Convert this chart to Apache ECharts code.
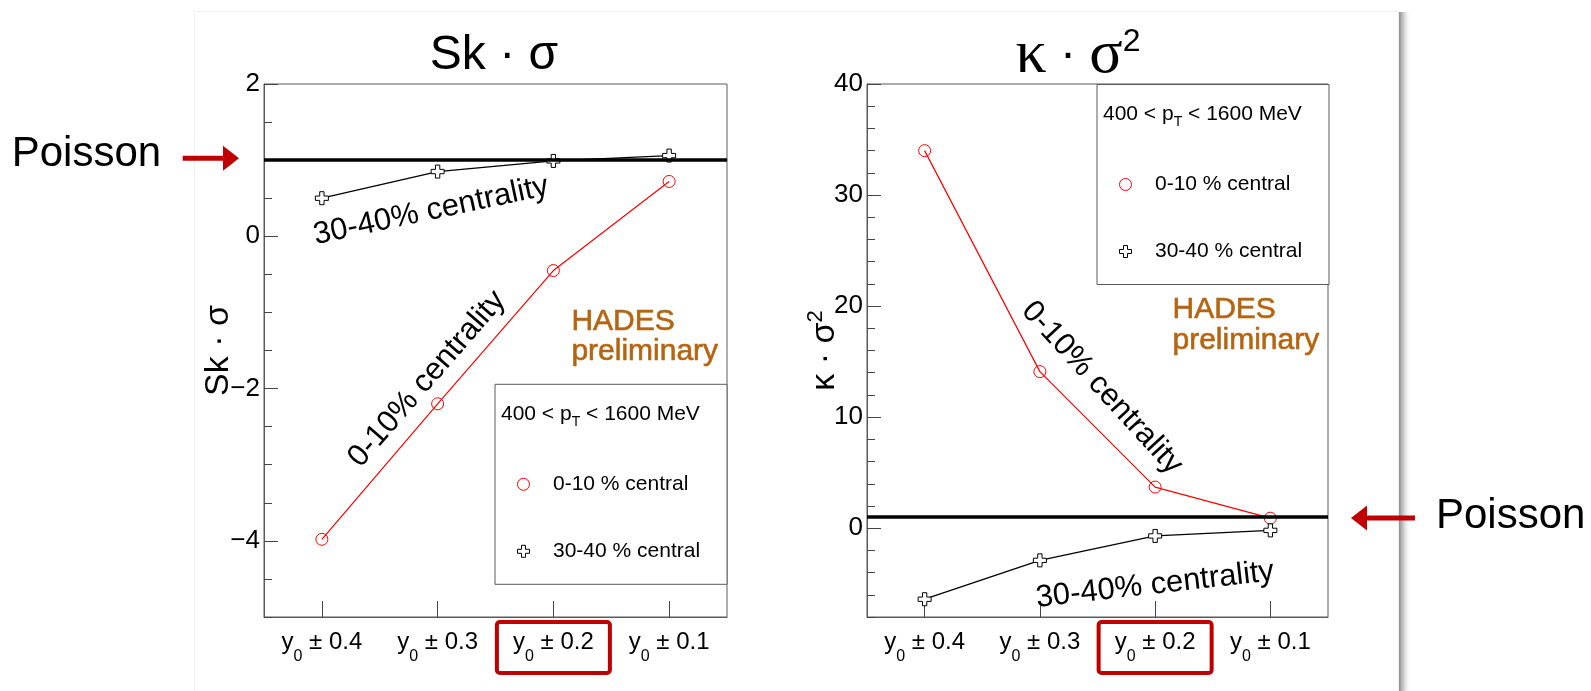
<!DOCTYPE html>
<html>
<head>
<meta charset="utf-8">
<script src="https://cdn.jsdelivr.net/npm/echarts@6/dist/echarts.min.js"></script>
<style>html,body{margin:0;padding:0;background:#fff;}#c{width:1591px;height:691px;}</style>
</head>
<body>
<div id="c"></div>
<script>
// ---------------- data ----------------
const categories = ['0.4', '0.3', '0.2', '0.1'];          // y0 ± ...
const seriesNames = ['0-10 % central', '30-40 % central'];
const skCentral = [-3.98, -2.2, -0.45, 0.72];
const skPeripheral = [0.50, 0.85, 0.99, 1.06];
const kurtCentral = [34.0, 14.1, 3.7, 0.9];
const kurtPeripheral = [-6.4, -2.9, -0.7, -0.2];
const poissonLevel = 1;
const skTickLabels = [-4, -2, 0, 2];
const kurtTickLabels = [0, 10, 20, 30, 40];
const highlightedCategory = 2;

// ---------------- style ----------------
const FONT = '"Liberation Sans", Arial, sans-serif';
const SERIF = '"Liberation Serif", "Times New Roman", serif';
const RED = '#ff0000';
const DARKRED = '#c00000';
const HADES = '#b5640f';
const FRAME = '#5a5a5a';
const CROSS = 'path://M4,0 L8,0 L8,4 L12,4 L12,8 L8,8 L8,12 L4,12 L4,8 L0,8 L0,4 L4,4 Z';

const panels = [
  { grid: { left: 264, top: 84, width: 463, height: 533 }, min: -5, max: 2, minor: 0.5, ticks: skTickLabels,
    central: skCentral, peripheral: skPeripheral, name: '{a|Sk · σ}', nameGap: 25 },
  { grid: { left: 867, top: 84, width: 461, height: 533 }, min: -8, max: 40, minor: 2, ticks: kurtTickLabels,
    central: kurtCentral, peripheral: kurtPeripheral, name: '{a|κ · σ}{p|2}', nameGap: 22 }
];

const xLabelRich = {
  y: { fontSize: 24, lineHeight: 46, fontFamily: FONT, color: '#000' },
  s: { fontSize: 16, lineHeight: 46, fontFamily: FONT, color: '#000', verticalAlign: 'bottom' },
  t: { fontSize: 24, lineHeight: 46, fontFamily: FONT, color: '#000' }
};

const grids = [], xAxes = [], yAxes = [], series = [];
panels.forEach((p, i) => {
  grids.push(Object.assign({ show: true, borderColor: FRAME, borderWidth: 1, backgroundColor: 'transparent' }, p.grid));
  xAxes.push({
    type: 'category', gridIndex: i, data: categories, boundaryGap: true,
    axisLine: { show: true, onZero: false, lineStyle: { color: FRAME, width: 1 } },
    axisTick: { show: true, inside: true, length: 16, alignWithLabel: true, lineStyle: { color: '#444' } },
    axisLabel: { margin: 2, interval: 0, formatter: v => '{y|y}{s|0}{t| \u00b1 ' + v + '}', rich: xLabelRich },
    splitLine: { show: false }
  });
  yAxes.push({
    type: 'value', gridIndex: i, min: p.min, max: p.max, position: 'left',
    axisLine: { show: true, onZero: false, lineStyle: { color: FRAME, width: 1 } },
    axisTick: { show: true, inside: true, length: 14, customValues: p.ticks, lineStyle: { color: '#444' } },
    axisLabel: { show: true, margin: 4, customValues: p.ticks, fontSize: 26, fontFamily: FONT, color: '#000',
      formatter: v => String(v).replace('-', '\u2212') },
    splitLine: { show: false },
    name: p.name, nameLocation: 'middle', nameGap: p.nameGap, nameMoveOverlap: false,
    nameTextStyle: { rich: {
      a: { fontSize: 34, fontFamily: FONT, color: '#000', lineHeight: 40 },
      p: { fontSize: 22, fontFamily: FONT, color: '#000', verticalAlign: 'top', lineHeight: 40 }
    } }
  });
  yAxes.push({
    type: 'value', gridIndex: i, min: p.min, max: p.max, interval: p.minor, position: 'left',
    axisLine: { show: false, onZero: false }, axisLabel: { show: false }, splitLine: { show: false },
    axisTick: { show: true, inside: true, length: 8, lineStyle: { color: '#444' } }
  });
  const toPts = arr => arr.map((v, k) => [k, v]);
  series.push({
    type: 'line', name: seriesNames[0], xAxisIndex: i, yAxisIndex: 2 * i, data: toPts(p.central),
    symbol: 'circle', symbolSize: 12, showSymbol: true,
    itemStyle: { color: 'rgba(0,0,0,0)', borderColor: RED, borderWidth: 1 },
    lineStyle: { color: RED, width: 1.2 }, z: 3, silent: true, animation: false
  });
  series.push({
    type: 'line', name: seriesNames[1], xAxisIndex: i, yAxisIndex: 2 * i, data: toPts(p.peripheral),
    symbol: CROSS, symbolSize: 13, showSymbol: true,
    itemStyle: { color: '#fff', borderColor: '#000', borderWidth: 1 },
    lineStyle: { color: '#000', width: 1.3 }, z: 4, silent: true, animation: false,
    markLine: { silent: true, symbol: ['none', 'none'], label: { show: false }, animation: false,
      lineStyle: { color: '#000', width: 3.5, type: 'solid' }, data: [{ yAxis: poissonLevel }] }
  });
});

function txt(x, y, text, size, opts) {
  return Object.assign({ type: 'text', x: x, y: y, z: 20,
    style: Object.assign({ text: text, fontSize: size, fontFamily: FONT, fill: '#000', align: 'center', verticalAlign: 'middle' }, (opts && opts.style) || {}) },
    opts && opts.rotation !== undefined ? { rotation: opts.rotation } : {});
}
const deg = d => d * Math.PI / 180;

function legendBox(x, y) {
  const w = 232, h = 200;
  return [
    { type: 'rect', z: 15, shape: { x: x, y: y, width: w, height: h }, style: { fill: '#fff', stroke: FRAME, lineWidth: 1 } },
    { type: 'text', z: 16, x: x + 6, y: y + 30, style: { text: '{a|400 < p}{s|T}{a| < 1600 MeV}', align: 'left', verticalAlign: 'middle',
      rich: { a: { fontSize: 21, fontFamily: FONT, fill: '#000', lineHeight: 30 }, s: { fontSize: 14, fontFamily: FONT, fill: '#000', verticalAlign: 'bottom', lineHeight: 30 } } } },
    { type: 'circle', z: 16, shape: { cx: x + 28.5, cy: y + 100, r: 6 }, style: { fill: 'none', stroke: RED, lineWidth: 1 } },
    { type: 'text', z: 16, x: x + 58, y: y + 100, style: { text: seriesNames[0], fontSize: 21, fontFamily: FONT, fill: '#000', align: 'left', verticalAlign: 'middle' } },
    { type: 'polygon', z: 16, x: x + 28.5, y: y + 167, shape: { points: [[-2,-6],[2,-6],[2,-2],[6,-2],[6,2],[2,2],[2,6],[-2,6],[-2,2],[-6,2],[-6,-2],[-2,-2]] }, style: { fill: '#fff', stroke: '#000', lineWidth: 1 } },
    { type: 'text', z: 16, x: x + 58, y: y + 167, style: { text: seriesNames[1], fontSize: 21, fontFamily: FONT, fill: '#000', align: 'left', verticalAlign: 'middle' } }
  ];
}

function arrow(tailX, tipX, y) {
  const dir = tipX > tailX ? 1 : -1;
  const headLen = 16, headHalf = 12.5, shaft = 5;
  const baseX = tipX - dir * headLen;
  return [
    { type: 'rect', z: 20, shape: { x: Math.min(tailX, baseX), y: y - shaft / 2, width: Math.abs(baseX - tailX), height: shaft }, style: { fill: DARKRED } },
    { type: 'polygon', z: 20, shape: { points: [[tipX, y], [baseX, y - headHalf], [baseX, y + headHalf]] }, style: { fill: DARKRED } }
  ];
}

const hadesStyle = { fill: HADES, align: 'left', stroke: HADES, lineWidth: 0.6 };
const graphics = [].concat(
  // slide outline and shadow
  [{ type: 'rect', z: -10, shape: { x: 194.5, y: 11.5, width: 1204, height: 700 }, style: { fill: 'none', stroke: '#f1f1f1', lineWidth: 1 } },
   { type: 'rect', z: -9, shape: { x: 1399, y: 12, width: 12, height: 679 },
     style: { fill: new echarts.graphic.LinearGradient(0, 0, 1, 0, [
       { offset: 0, color: 'rgba(140,140,140,1)' }, { offset: 0.35, color: 'rgba(185,185,185,0.8)' }, { offset: 1, color: 'rgba(255,255,255,0)' }]) } }],
  // titles
  [txt(494, 56, 'Sk · σ', 48),
   { type: 'text', z: 20, x: 1078, y: 56, style: { text: '{k|κ}{d| · }{k|σ}{p|2}', align: 'center', verticalAlign: 'middle',
     rich: { k: { fontSize: 62, fontFamily: SERIF, fill: '#000', lineHeight: 60 }, d: { fontSize: 48, fontFamily: FONT, fill: '#000', lineHeight: 60 },
             p: { fontSize: 32, fontFamily: FONT, fill: '#000', verticalAlign: 'top', lineHeight: 60 } } } }],
  // annotations
  [txt(431, 211, '30-40% centrality', 31, { rotation: deg(12) }),
   txt(427, 379, '0-10% centrality', 31, { rotation: deg(49) }),
   txt(1102, 388, '0-10% centrality', 31, { rotation: deg(-47.5) }),
   txt(1155, 585, '30-40% centrality', 31, { rotation: deg(6.5) })],
  // HADES preliminary
  [txt(571.4, 322, 'HADES', 30, { style: hadesStyle }),
   txt(571.4, 352, 'preliminary', 30, { style: hadesStyle }),
   txt(1172.5, 310, 'HADES', 30, { style: hadesStyle }),
   txt(1172.5, 341, 'preliminary', 30, { style: hadesStyle })],
  legendBox(495, 384.3),
  legendBox(1097, 84.5),
  // Poisson markers
  [txt(11.7, 154, 'Poisson', 42, { style: { align: 'left' } }),
   txt(1436, 516, 'Poisson', 42, { style: { align: 'left' } })],
  arrow(182.7, 239, 158.3),
  arrow(1415, 1351, 518)
);

const chart = echarts.init(document.getElementById('c'));
chart.setOption({
  animation: false,
  backgroundColor: '#fff',
  grid: grids, xAxis: xAxes, yAxis: yAxes, series: series,
  graphic: graphics
});

// red boxes around highlighted category label
const boxes = panels.map((p, i) => {
  const cx = chart.convertToPixel({ xAxisIndex: i }, categories[highlightedCategory]);
  const by = chart.convertToPixel({ yAxisIndex: 2 * i }, p.min);
  return { type: 'rect', z: 25, shape: { x: cx - 56.5, y: by + 5, width: 113, height: 51, r: 3 },
    style: { fill: 'none', stroke: DARKRED, lineWidth: 4 } };
});
chart.setOption({ graphic: graphics.concat(boxes) });
</script>
</body>
</html>
